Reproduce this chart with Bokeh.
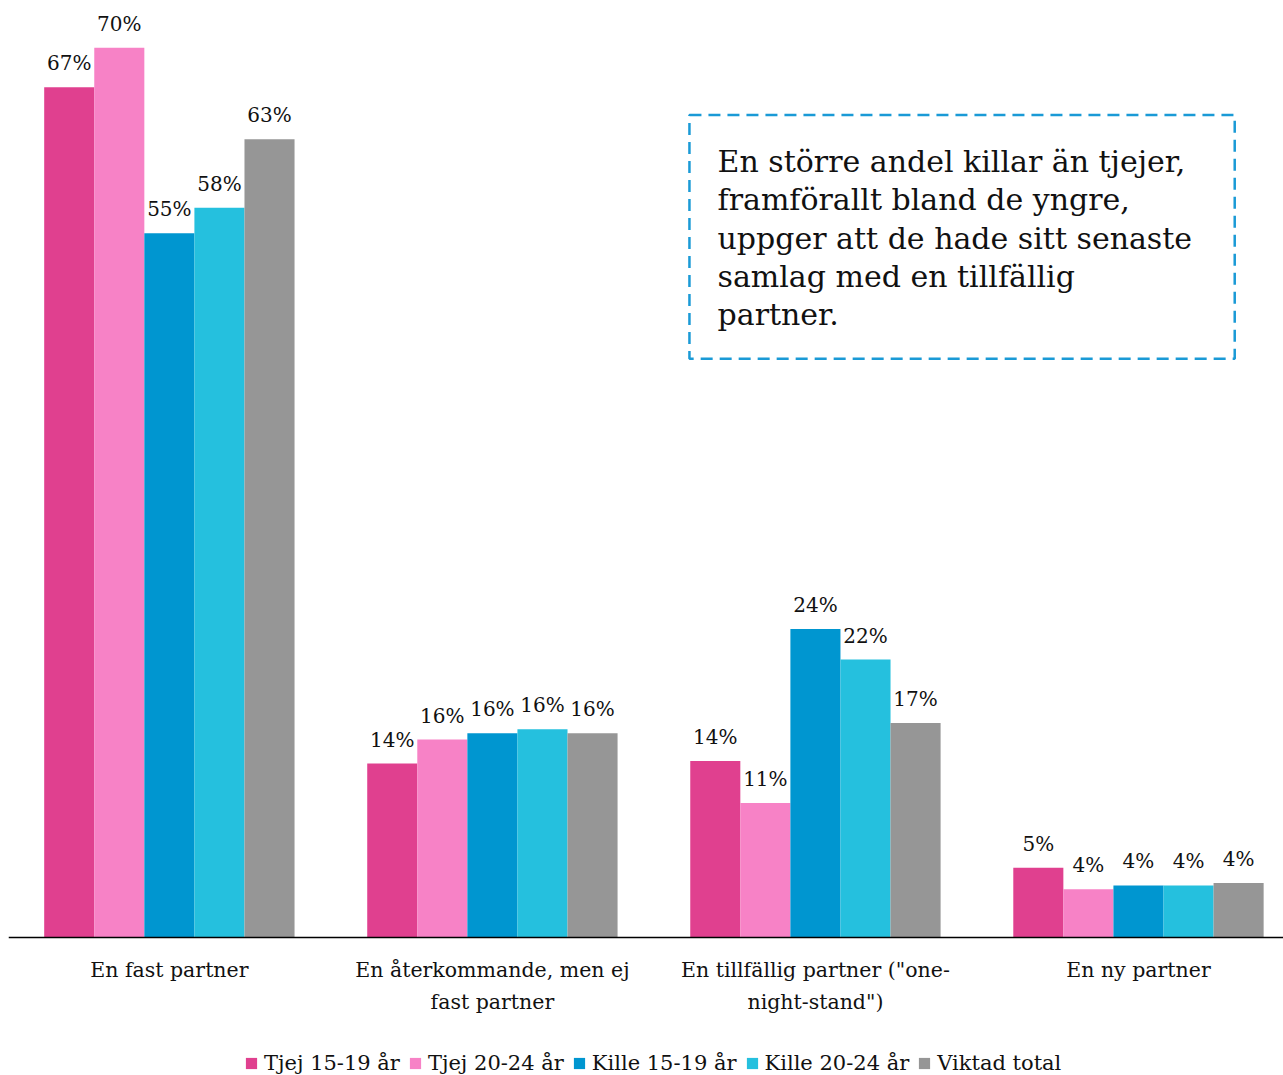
from bokeh.plotting import figure
from bokeh.models import Range1d, FixedTicker, Legend, LegendItem, BoxAnnotation, Label, ColumnDataSource
from bokeh.transform import dodge
from bokeh.core.properties import value
from bokeh.embed import file_html
from bokeh.resources import INLINE

categories = ["En fast partner", "En återkommande, men ej\nfast partner",
              "En tillfällig partner (\"one-\nnight-stand\")", "En ny partner"]
series = ["Tjej 15-19 år", "Tjej 20-24 år", "Kille 15-19 år", "Kille 20-24 år", "Viktad total"]
colors = ["#E0408F", "#F782C6", "#0096D0", "#25C0DE", "#969696"]

tjej_15_19 = [67.0, 13.7, 13.9, 5.5]
tjej_20_24 = [70.1, 15.6, 10.6, 3.8]
kille_15_19 = [55.5, 16.1, 24.3, 4.1]
kille_20_24 = [57.5, 16.4, 21.9, 4.1]
viktad_total = [62.9, 16.1, 16.9, 4.3]
values = [tjej_15_19, tjej_20_24, kille_15_19, kille_20_24, viktad_total]

tjej_15_19_lbl = ["67%", "14%", "14%", "5%"]
tjej_20_24_lbl = ["70%", "16%", "11%", "4%"]
kille_15_19_lbl = ["55%", "16%", "24%", "4%"]
kille_20_24_lbl = ["58%", "16%", "22%", "4%"]
viktad_total_lbl = ["63%", "16%", "17%", "4%"]
labels = [tjej_15_19_lbl, tjej_20_24_lbl, kille_15_19_lbl, kille_20_24_lbl, viktad_total_lbl]

note = ("En större andel killar än tjejer,\nframförallt bland de yngre,\n"
        "uppger att de hade sitt senaste\nsamlag med en tillfällig\npartner.")

FONT = "DejaVu Serif"
BW = 0.155
xs = list(range(len(categories)))

p = figure(frame_width=1275, frame_height=1067, output_backend="svg", toolbar_location=None,
           x_range=Range1d(-0.498, 3.449), y_range=Range1d(-10.875, 73.2),
           min_border_left=8, min_border_right=0, min_border_top=8, min_border_bottom=0)
p.outline_line_color = None
p.grid.grid_line_color = None
p.yaxis.visible = False
p.background_fill_color = "white"
p.border_fill_color = "white"

ax = p.xaxis[0]
ax.fixed_location = 0
ax.ticker = FixedTicker(ticks=xs)
ax.major_label_overrides = {i: c for i, c in enumerate(categories)}
ax.major_tick_line_color = None
ax.minor_tick_line_color = None
ax.major_tick_out = 0
ax.major_tick_in = 0
ax.axis_label_standoff = 0
ax.axis_line_color = "black"
ax.axis_line_width = 1.5
ax.major_label_text_font = FONT
ax.major_label_text_font_size = "20.5px"
ax.major_label_text_color = "#111111"
ax.major_label_standoff = 21
ax.major_label_text_line_height = 1.3

items = []
for k, (name, col) in enumerate(zip(series, colors)):
    src = ColumnDataSource(dict(x=xs, top=values[k], lbl=labels[k]))
    off = (k - 2) * BW
    r = p.vbar(x=dodge("x", off, range=p.x_range), top="top", width=BW, source=src,
               fill_color=col, line_color=None)
    p.text(x=dodge("x", off, range=p.x_range), y="top", text="lbl", source=src,
           text_font=value(FONT), text_font_size="20px", text_align="center",
           text_baseline="bottom", y_offset=-12, text_color="#111111")
    items.append(LegendItem(label=name, renderers=[r]))

legend = Legend(items=items, orientation="horizontal", location=(236, 0),
                label_text_font=FONT, label_text_font_size="21px", label_text_color="#111111",
                glyph_width=14, glyph_height=14, label_standoff=6, spacing=8,
                border_line_color=None, background_fill_alpha=0, padding=0, margin=0)
p.add_layout(legend)

box = BoxAnnotation(left=1.610, right=3.298, top=64.8, bottom=45.6, fill_alpha=0,
                    line_color="#1A9AD6", line_alpha=1.0, line_width=2.5, line_dash="12 7")
p.add_layout(box)
p.add_layout(Label(x=1.697, y=62.5, text=note, text_font=FONT, text_font_size="30px",
                   text_baseline="top", text_color="#111111", text_line_height=1.09))

open("out.html", "w").write(file_html(p, INLINE))
